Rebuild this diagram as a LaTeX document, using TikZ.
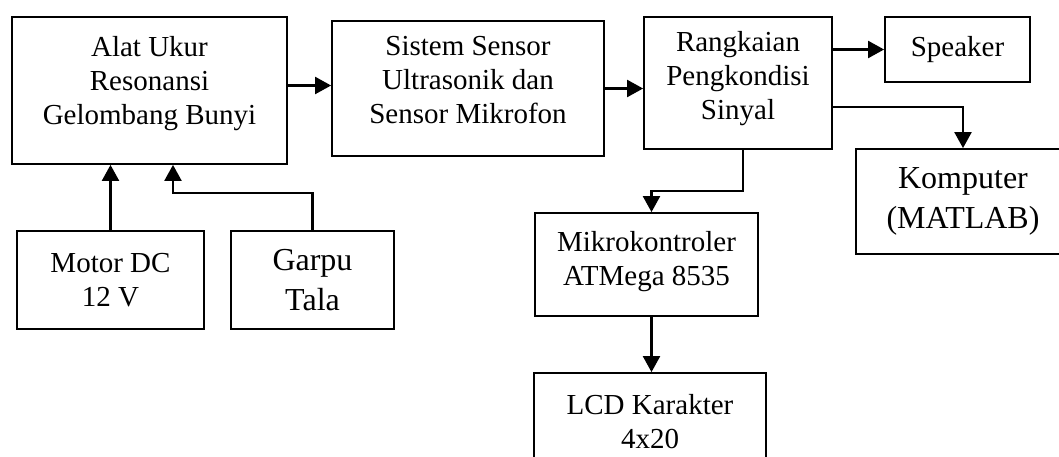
\documentclass[tikz,border=0pt]{standalone}
\usepackage{fontspec}
\setmainfont{Liberation Serif}
\usetikzlibrary{arrows.meta}
% teks blok sedikit dinaikkan tanpa mengubah ukuran kotak
\newcommand{\teksnaik}[2]{\raisebox{#1}[\height][\depth]{\begin{tabular}{@{}c@{}}#2\end{tabular}}}
\tikzset{
  blok/.style={draw,line width=1.8pt,inner sep=0pt,align=center,
    font=\fontsize{29}{34}\selectfont},
  blokbesar/.style={blok,font=\fontsize{32}{40}\selectfont},
  panah/.style={line width=2.2pt,-{Triangle[length=16pt,width=17pt]}},
}
\begin{document}
\begin{tikzpicture}[x=1pt,y=-1pt]
    \clip (0,0) rectangle (1059,457);
    \node[blok,minimum width=275pt,minimum height=147pt] (alat) at (149.5,90.5) {\teksnaik{7pt}{Alat Ukur\\Resonansi\\Gelombang Bunyi}};
    \node[blok,minimum width=272pt,minimum height=135pt] (sistem) at (468,88.5) {\teksnaik{6pt}{Sistem Sensor\\Ultrasonik dan\\Sensor Mikrofon}};
    \node[blok,minimum width=188pt,minimum height=132pt] (rang) at (738,83) {\teksnaik{4pt}{Rangkaian\\Pengkondisi\\Sinyal}};
    \node[blok,minimum width=145pt,minimum height=65pt] (speaker) at (957.5,49.5) {Speaker};
    \node[blokbesar,minimum width=214pt,minimum height=105pt] (komp) at (963,201.5) {Komputer\\(MATLAB)};
    \node[blok,minimum width=223pt,minimum height=103pt] (mikro) at (646.5,264.5) {\teksnaik{3pt}{Mikrokontroler\\ATMega 8535}};
    \node[blok,minimum width=232pt,minimum height=97pt] (lcd) at (650,421.5) {LCD Karakter\\4x20};
    \node[blok,minimum width=187pt,minimum height=98pt] (motor) at (110.5,280) {Motor DC\\12 V};
    \node[blokbesar,minimum width=163pt,minimum height=98pt] (garpu) at (312.5,280) {Garpu\\Tala};

    \draw[panah] ([yshift=5pt]alat.east) -- ([yshift=5pt]alat.east -| sistem.west);
    \draw[panah] (sistem.east) -- (sistem.east -| rang.west);
    \draw[panah] (speaker.west -| rang.east) -- (speaker.west);
    \draw[panah] ([yshift=-24pt]rang.east) -| (komp.north);
    \draw[panah] ([xshift=5pt]rang.south) |- ([xshift=5pt,yshift=21pt]mikro.north) -- ([xshift=5pt]mikro.north);
    \draw[panah] ([xshift=5pt]mikro.south) -- ([xshift=5pt]mikro.south |- lcd.north);
    \draw[panah] (motor.north) -- (motor.north |- alat.south);
    \draw[panah] (garpu.north) |- ([xshift=23.5pt,yshift=-28pt]alat.south) -- ([xshift=23.5pt]alat.south);
\end{tikzpicture}
\end{document}
